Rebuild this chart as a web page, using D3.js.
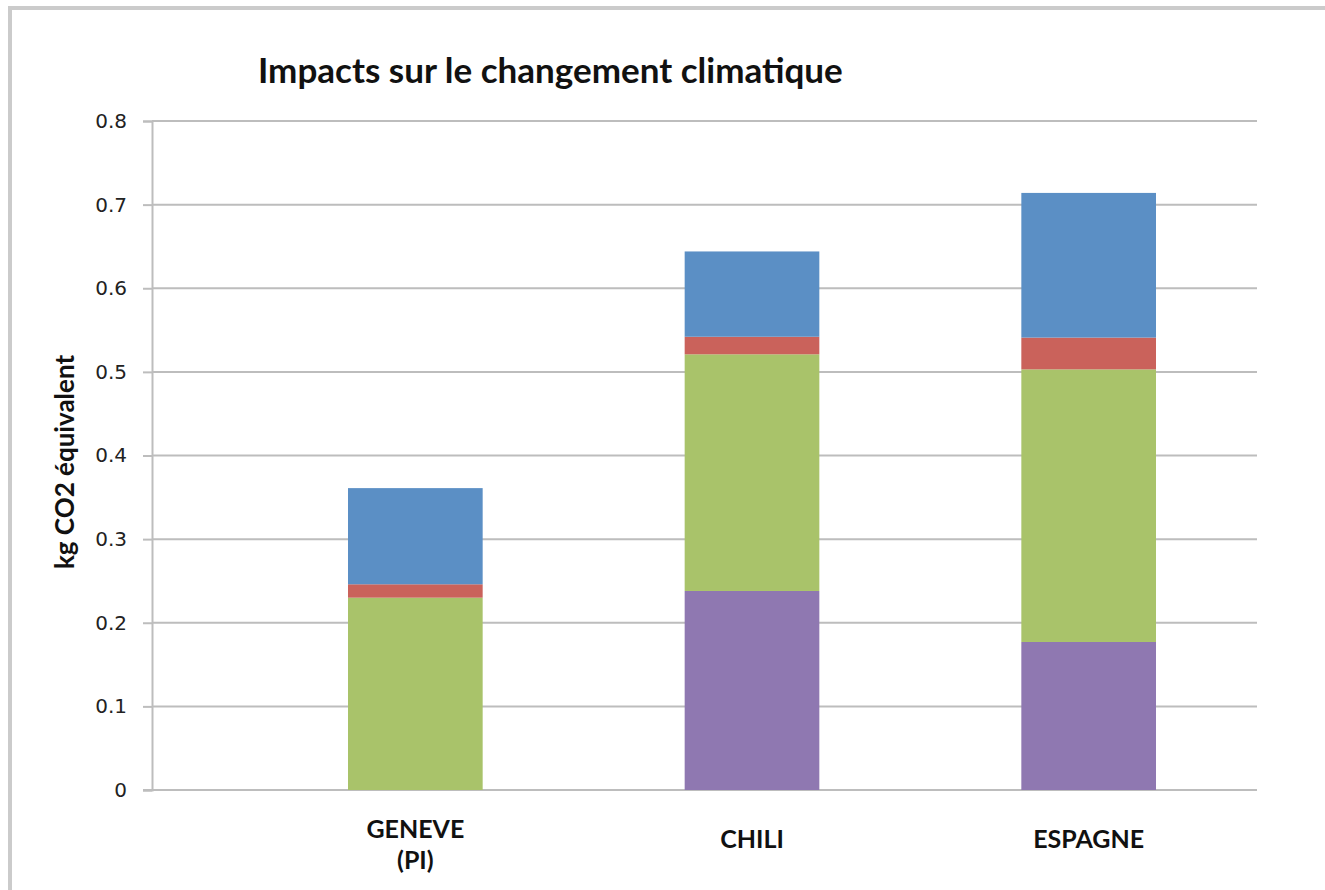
<!DOCTYPE html>
<html>
<head>
<meta charset="utf-8">
<script src="https://cdn.jsdelivr.net/npm/d3@7"></script>
<style>
  body { margin: 0; background: #fff; }
  svg text { font-family: Lato, "Open Sans", sans-serif; }
</style>
</head>
<body>
<div id="chart"></div>
<script>
// categories and stacked series (bottom to top)
const categories = ["GENEVE|(PI)", "CHILI", "ESPAGNE"]
const seriesNames = ["violet", "vert", "rouge", "bleu"]
const violet = [0, 0.238, 0.177]
const vert = [0.23, 0.283, 0.326]
const rouge = [0.016, 0.021, 0.038]
const bleu = [0.115, 0.102, 0.173]
const yTicks = [0, 0.1, 0.2, 0.3, 0.4, 0.5, 0.6, 0.7, 0.8]
const colors = ["#8f78b1", "#a9c36a", "#ca625b", "#5b8fc5"]

drawChart()

function drawChart() {
    var width = 1325, height = 890

    var svg = d3.select("#chart")
        .append("svg")
        .attr("width", width)
        .attr("height", height)

    // outer frame
    svg.append("rect")
        .attr("x", 10).attr("y", 8)
        .attr("width", 1340).attr("height", 900)
        .attr("fill", "none")
        .attr("stroke", "#cbcbcb")
        .attr("stroke-width", 4)

    var axisX = 152, plotRight = 1257

    // build rows for the stack
    var rows = categories.map(function (c, i) {
        return { cat: c, violet: violet[i], vert: vert[i], rouge: rouge[i], bleu: bleu[i] }
    })

    var x = d3.scaleBand()
        .domain(categories)
        .range([247, plotRight])
        .paddingInner(0.6)
        .paddingOuter(0.3)

    var y = d3.scaleLinear()
        .domain([0, 0.8])
        .range([790, 121])

    // gridlines
    svg.append("g")
        .selectAll("line")
        .data(yTicks.slice(1))
        .enter()
        .append("line")
        .attr("x1", axisX).attr("x2", plotRight)
        .attr("y1", function (d) { return y(d) }).attr("y2", function (d) { return y(d) })
        .attr("stroke", "#bdbdbd")
        .attr("stroke-width", 2)

    // y axis
    var yAxis = svg.append("g")
        .attr("transform", "translate(" + axisX + ",0)")
        .call(d3.axisLeft(y).tickValues(yTicks).tickSize(9).tickPadding(16)
            .tickFormat(function (d) { return d === 0 ? "0" : d3.format(".1f")(d) }))
    yAxis.select(".domain").attr("stroke", "#bdbdbd").attr("stroke-width", 2)
    yAxis.selectAll(".tick line").attr("stroke", "#bdbdbd").attr("stroke-width", 2)
    yAxis.selectAll("text")
        .attr("font-size", 20)
        .attr("fill", "#222")
        .style("font-family", "'DejaVu Sans', sans-serif")

    // baseline
    svg.append("line")
        .attr("x1", axisX - 9).attr("x2", plotRight)
        .attr("y1", y(0)).attr("y2", y(0))
        .attr("stroke", "#bdbdbd")
        .attr("stroke-width", 2)

    // stacked bars
    var stack = d3.stack().keys(seriesNames)
    var layers = stack(rows)

    svg.append("g")
        .selectAll("g")
        .data(layers)
        .enter()
        .append("g")
        .attr("fill", function (d, i) { return colors[i] })
        .selectAll("rect")
        .data(function (d) { return d })
        .enter()
        .append("rect")
        .attr("x", function (d) { return x(d.data.cat) })
        .attr("width", x.bandwidth())
        .attr("y", function (d) { return y(d[1]) })
        .attr("height", function (d) { return y(d[0]) - y(d[1]) })

    // x labels
    var labels = svg.append("g")
        .selectAll("text")
        .data(categories)
        .enter()
        .append("text")
        .attr("text-anchor", "middle")
        .attr("font-size", 25)
        .attr("font-weight", "bold")
        .attr("fill", "#111")
    labels.each(function (d) {
        var parts = d.split("|")
        var cx = x(d) + x.bandwidth() / 2
        var startY = parts.length > 1 ? 838 : 848
        d3.select(this).selectAll("tspan")
            .data(parts)
            .enter()
            .append("tspan")
            .attr("x", cx)
            .attr("y", function (p, i) { return startY + i * 31 })
            .text(function (p) { return p })
    })

    // title
    svg.append("text")
        .attr("x", 258).attr("y", 83)
        .attr("font-size", 35)
        .attr("font-weight", "bold")
        .attr("fill", "#111")
        .text("Impacts sur le changement climatique")

    // y axis title
    svg.append("text")
        .attr("transform", "translate(74,462) rotate(-90)")
        .attr("text-anchor", "middle")
        .attr("font-size", 26)
        .attr("font-weight", "bold")
        .attr("fill", "#111")
        .text("kg CO2 équivalent")
}
</script>
</body>
</html>
